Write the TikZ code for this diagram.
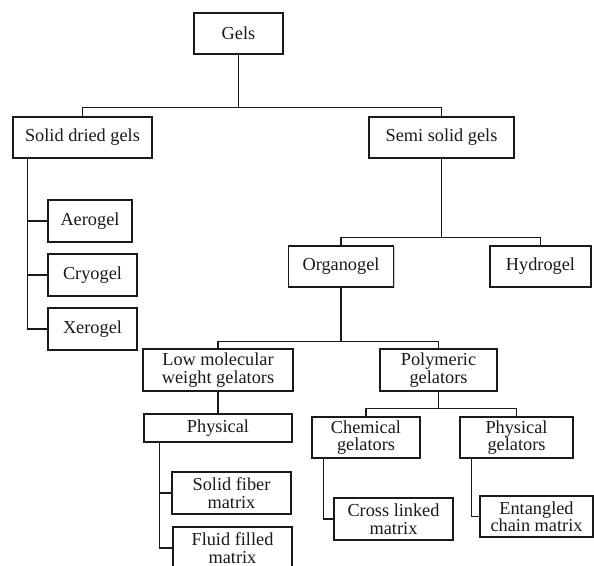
\documentclass[tikz,border=0pt]{standalone}
\usepackage{fontspec}
\setmainfont{Liberation Serif}
\usetikzlibrary{shadows}
\definecolor{ink}{HTML}{1A1A1A}
\begin{document}
\begin{tikzpicture}[x=1pt,y=-1pt,
  gbox/.style={draw=ink, line width=1.5pt, fill=white, text=ink, align=center,
    inner sep=0pt, font=\fontsize{18.3}{17.5}\selectfont,
    drop shadow={shadow xshift=1pt, shadow yshift=-1pt, opacity=0.35, fill=gray}},
  link/.style={draw=ink, line width=1.4pt}]
\useasboundingbox (0,0) rectangle (594,565);
\fill[white] (0,0) rectangle (594,565);
\node[gbox, minimum width=89pt, minimum height=41pt] (gels) at (238.5,33.5) {Gels};
\node[gbox, minimum width=139pt, minimum height=41pt] (solid) at (82.5,137.5) {Solid dried gels};
\node[gbox, minimum width=145pt, minimum height=41pt] (semi) at (441.5,137.5) {Semi solid gels};
\node[gbox, minimum width=84pt, minimum height=42pt] (aero) at (90,221) {Aerogel};
\node[gbox, minimum width=89pt, minimum height=42pt] (cryo) at (92.5,275) {Cryogel};
\node[gbox, minimum width=89pt, minimum height=42pt] (xero) at (92.5,329) {Xerogel};
\node[gbox, minimum width=105pt, minimum height=41pt] (organo) at (341,266.5) {Organogel};
\node[gbox, minimum width=101pt, minimum height=41pt] (hydro) at (540.5,266.5) {Hydrogel};
\node[gbox, minimum width=150pt, minimum height=42pt] (lowmol) at (218,370) {Low molecular\\weight gelators};
\node[gbox, minimum width=117pt, minimum height=42pt] (poly) at (438.5,370) {Polymeric\\gelators};
\node[gbox, minimum width=148pt, minimum height=28pt] (phys) at (218,428) {Physical};
\node[gbox, minimum width=108pt, minimum height=41pt] (chem) at (366,437.5) {Chemical\\gelators};
\node[gbox, minimum width=113pt, minimum height=41pt] (physg) at (516.5,437.5) {Physical\\gelators};
\node[gbox, minimum width=119pt, minimum height=42pt] (solidf) at (231.5,493) {Solid fiber\\matrix};
\node[gbox, minimum width=119pt, minimum height=42pt] (fluid) at (232.5,548) {Fluid filled\\matrix};
\node[gbox, minimum width=119pt, minimum height=42pt] (cross) at (393.5,519) {Cross linked\\matrix};
\node[gbox, minimum width=113pt, minimum height=41pt] (entang) at (536.5,516.5) {Entangled\\chain matrix};
% connectors
\draw[link] (solid.north) -- ++(0,-9) -| (gels.south);
\draw[link] (semi.north) -- ++(0,-9) -| (gels.south);
\draw[link] ([xshift=15pt]solid.south west) |- (aero.west);
\draw[link] ([xshift=15pt]solid.south west) |- (cryo.west);
\draw[link] ([xshift=15pt]solid.south west) |- (xero.west);
\draw[link] (organo.north) -- ++(0,-8) -| (semi.south);
\draw[link] (hydro.north) -- ++(0,-8) -| (semi.south);
\draw[link] (lowmol.north) -- ++(0,-7) -| (organo.south);
\draw[link] (poly.north) -- ++(0,-7) -| (organo.south);
\draw[link] (lowmol.south) -- (phys.north);
\draw[link] ([xshift=16pt]phys.south west) |- (solidf.west);
\draw[link] ([xshift=16pt]phys.south west) |- (fluid.west);
\draw[link] (chem.north) -- ++(0,-8) -| (poly.south);
\draw[link] (physg.north) -- ++(0,-8) -| (poly.south);
\draw[link] ([xshift=12pt]chem.south west) |- (cross.west);
\draw[link] ([xshift=12pt]physg.south west) |- (entang.west);
\end{tikzpicture}
\end{document}
